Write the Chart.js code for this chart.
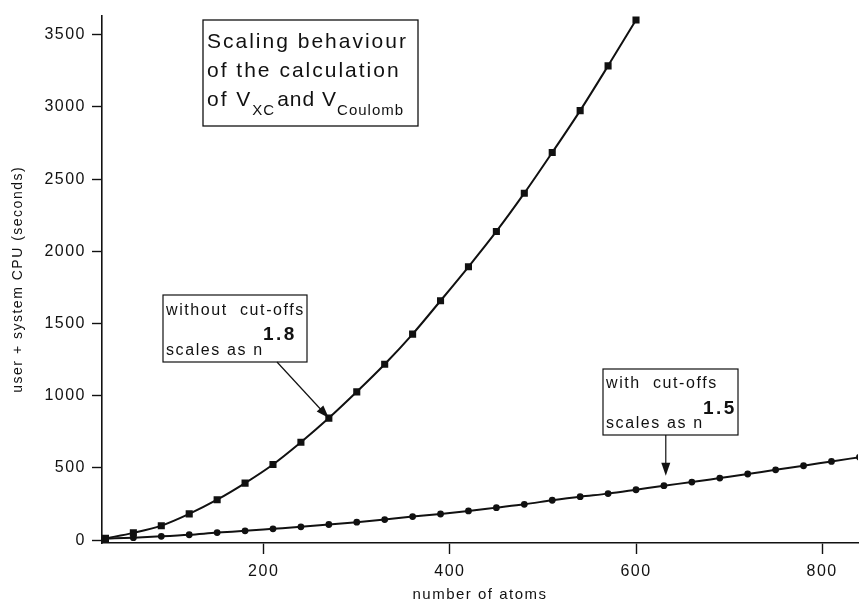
<!DOCTYPE html>
<html lang="en">
<head>
    <meta charset="UTF-8">
    <title>Scaling behaviour</title>
    <script src="https://cdn.jsdelivr.net/npm/chart.js"></script>
    <style>
        body { margin: 0; background: #fff; }
    </style>
</head>
<body>
    <div style="width: 864px; height: 604px;">
        <canvas id="myChart" width="864" height="604"></canvas>
    </div>

    <script>
        // number of atoms for each run
        const atomsNoCutoff = [30, 60, 90, 120, 150, 180, 210, 240, 270, 300, 330, 360, 390, 420, 450, 480, 510, 540, 570, 600];
        const atomsCutoff = [30, 60, 90, 120, 150, 180, 210, 240, 270, 300, 330, 360, 390, 420, 450, 480, 510, 540, 570, 600, 630, 660, 690, 720, 750, 780, 810, 840];

        // user + system CPU (seconds)
        const cpuNoCutoff = [12, 50, 100, 182, 280, 395, 524, 678, 845, 1027, 1218, 1427, 1658, 1893, 2138, 2403, 2685, 2975, 3285, 3603];
        const cpuCutoff = [10, 17, 26, 37, 52, 64, 78, 92, 108, 124, 142, 163, 181, 202, 225, 248, 276, 301, 322, 349, 377, 402, 430, 458, 487, 515, 545, 574];

        const xTicks = [200, 400, 600, 800];
        const yTicks = [0, 500, 1000, 1500, 2000, 2500, 3000, 3500];

        // where the two annotation arrows point (atoms, seconds)
        const arrowNoCutoff = [270, 845];
        const arrowCutoff = [632, 445];

        const toPoints = (xs, ys) => xs.map((x, i) => ({ x: x, y: ys[i] }));
        const FONT = '"Liberation Sans", Arial, Helvetica, sans-serif';

        // draw a row of text pieces (for sub/superscripts)
        function drawRuns(ctx, x, y, runs) {
            let cx = x;
            runs.forEach(r => {
                ctx.font = r.font;
                ctx.letterSpacing = r.ls || '1.5px';
                ctx.fillText(r.t, cx, y + (r.dy || 0));
                cx += ctx.measureText(r.t).width + (r.gap || 0);
            });
        }

        function arrow(ctx, x1, y1, x2, y2) {
            const a = Math.atan2(y2 - y1, x2 - x1);
            const len = 13, w = 4.5;
            ctx.beginPath();
            ctx.moveTo(x1, y1);
            ctx.lineTo(x2 - Math.cos(a) * len * 0.8, y2 - Math.sin(a) * len * 0.8);
            ctx.stroke();
            ctx.beginPath();
            ctx.moveTo(x2, y2);
            ctx.lineTo(x2 - Math.cos(a) * len - Math.sin(a) * w, y2 - Math.sin(a) * len + Math.cos(a) * w);
            ctx.lineTo(x2 - Math.cos(a) * len + Math.sin(a) * w, y2 - Math.sin(a) * len - Math.cos(a) * w);
            ctx.closePath();
            ctx.fill();
        }

        const spacing = {
            id: 'spacing',
            beforeDraw(chart) { chart.ctx.letterSpacing = '1.5px'; },
            afterDraw(chart) { chart.ctx.letterSpacing = '0px'; }
        };

        const notes = {
            id: 'notes',
            afterDatasetsDraw(chart) {
                const ctx = chart.ctx;
                const xs = chart.scales.x, ys = chart.scales.y;
                ctx.save();
                ctx.strokeStyle = '#111';
                ctx.fillStyle = '#111';
                ctx.lineWidth = 1.3;
                ctx.textBaseline = 'alphabetic';
                ctx.textAlign = 'left';

                // title box
                ctx.strokeRect(203, 20, 215, 106);
                const big = '21px ' + FONT, sub = '15px ' + FONT;
                drawRuns(ctx, 207, 48, [{ t: 'Scaling behaviour', font: big, ls: '2px' }]);
                drawRuns(ctx, 207, 77, [{ t: 'of the calculation', font: big, ls: '2px' }]);
                drawRuns(ctx, 207, 106, [
                    { t: 'of V', font: big, ls: '2px' },
                    { t: 'XC', font: sub, dy: 9, ls: '1px', gap: 2 },
                    { t: 'and V', font: big, ls: '1px' },
                    { t: 'Coulomb', font: sub, dy: 9, ls: '1px' }
                ]);

                // without cut-offs
                const mid = '16px ' + FONT, bold = 'bold 19px ' + FONT;
                ctx.lineWidth = 1.2;
                ctx.strokeRect(163, 295, 144, 67);
                drawRuns(ctx, 166, 315, [{ t: 'without  cut-offs', font: mid, ls: '1.6px' }]);
                drawRuns(ctx, 166, 355, [{ t: 'scales as n', font: mid, ls: '1.6px' }]);
                drawRuns(ctx, 263, 340, [{ t: '1.8', font: bold, ls: '2.5px' }]);
                arrow(ctx, 277, 362, xs.getPixelForValue(arrowNoCutoff[0]), ys.getPixelForValue(arrowNoCutoff[1]));

                // with cut-offs
                ctx.strokeRect(603, 369, 135, 66);
                drawRuns(ctx, 606, 388, [{ t: 'with  cut-offs', font: mid, ls: '1.6px' }]);
                drawRuns(ctx, 606, 428, [{ t: 'scales as n', font: mid, ls: '1.6px' }]);
                drawRuns(ctx, 703, 414, [{ t: '1.5', font: bold, ls: '2.5px' }]);
                const ax = xs.getPixelForValue(arrowCutoff[0]);
                arrow(ctx, ax, 435, ax, ys.getPixelForValue(arrowCutoff[1]));

                ctx.restore();
            }
        };

        const ctx = document.getElementById('myChart').getContext('2d');
        const myChart = new Chart(ctx, {
            type: 'line',
            data: {
                datasets: [{
                    label: 'without cut-offs',
                    data: toPoints(atomsNoCutoff, cpuNoCutoff),
                    borderColor: '#111',
                    backgroundColor: '#111',
                    borderWidth: 2,
                    pointStyle: 'rect',
                    pointRadius: 3.6,
                    cubicInterpolationMode: 'monotone'
                }, {
                    label: 'with cut-offs',
                    data: toPoints(atomsCutoff, cpuCutoff),
                    borderColor: '#111',
                    backgroundColor: '#111',
                    borderWidth: 2,
                    pointStyle: 'circle',
                    pointRadius: 2.4,
                    cubicInterpolationMode: 'monotone'
                }]
            },
            options: {
                responsive: false,
                animation: false,
                layout: { padding: { top: 13, right: 0, left: 0, bottom: 0 } },
                scales: {
                    x: {
                        type: 'linear',
                        min: 26.3,
                        max: 838.5,
                        afterBuildTicks: s => { s.ticks = xTicks.map(v => ({ value: v })); },
                        afterFit: s => { s.height = 61; },
                        border: { display: true, color: '#111', width: 1.6 },
                        grid: { drawOnChartArea: false, drawTicks: true, tickLength: 11, color: '#111', tickWidth: 1.4 },
                        ticks: { color: '#111', padding: 8, font: { family: FONT, size: 16 }, maxRotation: 0, callback: v => String(v) },
                        title: {
                            display: true,
                            text: 'number of atoms',
                            color: '#111',
                            font: { family: FONT, size: 15, lineHeight: 1.2 },
                            padding: 0
                        }
                    },
                    y: {
                        min: -20,
                        max: 3633,
                        afterBuildTicks: s => { s.ticks = yTicks.map(v => ({ value: v })); },
                        afterFit: s => { s.width = 102; },
                        border: { display: true, color: '#111', width: 1.6 },
                        grid: { drawOnChartArea: false, drawTicks: true, tickLength: 10, color: '#111', tickWidth: 1.4 },
                        ticks: { color: '#111', padding: 6, font: { family: FONT, size: 16 }, callback: v => String(v) },
                        title: {
                            display: true,
                            text: 'user + system CPU (seconds)',
                            color: '#111',
                            font: { family: FONT, size: 14 },
                            padding: { top: 10, bottom: 0 }
                        }
                    }
                },
                plugins: {
                    legend: { display: false },
                    tooltip: { enabled: false }
                }
            },
            plugins: [spacing, notes]
        });
    </script>
</body>
</html>
